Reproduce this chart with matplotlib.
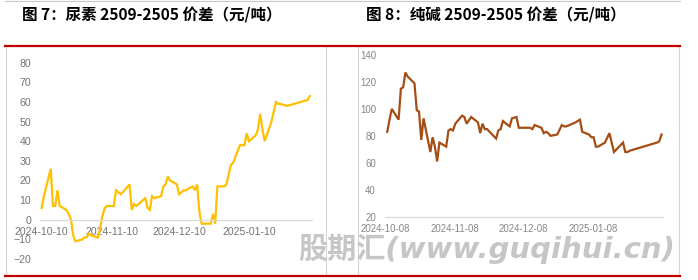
import matplotlib
matplotlib.use("Agg")
import matplotlib.pyplot as plt
import matplotlib.dates as mdates
from matplotlib.lines import Line2D
import pandas as pd

# 尿素 2509-2505 价差（元/吨）
urea_dates = ["2024-10-10", "2024-10-11", "2024-10-14", "2024-10-15", "2024-10-16",
              "2024-10-17", "2024-10-18", "2024-10-21", "2024-10-22", "2024-10-23",
              "2024-10-24", "2024-10-25", "2024-10-28", "2024-10-29", "2024-10-30",
              "2024-10-31", "2024-11-01", "2024-11-04", "2024-11-05", "2024-11-06",
              "2024-11-07", "2024-11-08", "2024-11-11", "2024-11-12", "2024-11-14",
              "2024-11-15", "2024-11-18", "2024-11-19", "2024-11-20", "2024-11-21",
              "2024-11-25", "2024-11-26", "2024-11-27", "2024-11-28", "2024-11-29",
              "2024-12-02", "2024-12-03", "2024-12-04", "2024-12-05", "2024-12-06",
              "2024-12-09", "2024-12-10", "2024-12-11", "2024-12-12", "2024-12-13",
              "2024-12-16", "2024-12-17", "2024-12-18", "2024-12-19", "2024-12-20",
              "2024-12-23", "2024-12-24", "2024-12-25", "2024-12-26", "2024-12-27",
              "2024-12-30", "2024-12-31", "2025-01-02", "2025-01-03", "2025-01-06",
              "2025-01-07", "2025-01-08", "2025-01-09", "2025-01-10", "2025-01-13",
              "2025-01-14", "2025-01-15", "2025-01-16", "2025-01-17", "2025-01-20",
              "2025-01-21", "2025-01-22", "2025-01-23", "2025-01-24", "2025-01-27",
              "2025-02-05", "2025-02-06"]
urea_vals = [6, 12, 26, 7, 7,
             15, 7, 5, 3, 0,
             -8, -11, -10, -9, -9,
             -7, -8, -9, -4, 2,
             6, 7, 7, 15, 13,
             14, 18, 5, 8, 7,
             11, 6, 5, 12, 11,
             12, 17, 18, 22, 20,
             18, 13, 14, 15, 15,
             17, 15, 18, 4, -2,
             -2, -2, 3, -2, 17,
             17, 18, 28, 29, 38,
             38, 38, 44, 40, 43,
             46, 54, 46, 40, 50,
             55, 60, 59, 59, 58,
             61, 63]

# 纯碱 2509-2505 价差（元/吨）
soda_dates = ["2024-10-09", "2024-10-10", "2024-10-11", "2024-10-14", "2024-10-15",
              "2024-10-16", "2024-10-17", "2024-10-18", "2024-10-21", "2024-10-22",
              "2024-10-23", "2024-10-24", "2024-10-25", "2024-10-28", "2024-10-29",
              "2024-10-30", "2024-10-31", "2024-11-01", "2024-11-04", "2024-11-05",
              "2024-11-06", "2024-11-07", "2024-11-08", "2024-11-11", "2024-11-12",
              "2024-11-13", "2024-11-15", "2024-11-18", "2024-11-19", "2024-11-20",
              "2024-11-21", "2024-11-22", "2024-11-26", "2024-11-27", "2024-11-28",
              "2024-11-29", "2024-12-02", "2024-12-03", "2024-12-05", "2024-12-06",
              "2024-12-11", "2024-12-12", "2024-12-13", "2024-12-16", "2024-12-17",
              "2024-12-18", "2024-12-19", "2024-12-20", "2024-12-23", "2024-12-25",
              "2024-12-26", "2024-12-27", "2024-12-31", "2025-01-02", "2025-01-03",
              "2025-01-06", "2025-01-07", "2025-01-08", "2025-01-09", "2025-01-10",
              "2025-01-13", "2025-01-15", "2025-01-17", "2025-01-21", "2025-01-22",
              "2025-01-23", "2025-01-24", "2025-02-05", "2025-02-06", "2025-02-07"]
soda_vals = [83, 92, 100, 92, 115,
             116, 127, 124, 119, 99,
             98, 77, 93, 68, 79,
             72, 61, 75, 72, 84,
             85, 84, 89, 95, 94,
             89, 94, 90, 82, 89,
             85, 85, 78, 84, 85,
             91, 87, 93, 94, 86,
             86, 85, 88, 86, 82,
             83, 82, 80, 81, 88,
             87, 87, 90, 92, 83,
             81, 79, 79, 72, 72,
             75, 82, 68, 75, 68,
             68, 69, 75, 76, 81]

urea_ticks = ["2024-10-10", "2024-11-10", "2024-12-10", "2025-01-10"]
soda_ticks = ["2024-10-08", "2024-11-08", "2024-12-08", "2025-01-08"]

title_left = "图 7：尿素 2509-2505 价差（元/吨）"
title_right = "图 8：纯碱 2509-2505 价差（元/吨）"

W, H = 698, 280
fig = plt.figure(figsize=(W / 100, H / 100), dpi=100)
fig.patch.set_facecolor("white")


def fx(px):
    return px / W


def fy(py):
    return 1 - py / H


tick_font = ["Liberation Sans", "DejaVu Sans"]


def setup(ax, dates, vals, ticks, color, ylim, yticks, xlim, zero_spine, size, tcolor):
    ax.plot(pd.to_datetime(dates), vals, color=color, lw=1.6, solid_joinstyle="miter")
    ax.set_ylim(*ylim)
    ax.set_yticks(yticks)
    ax.set_xlim(pd.Timestamp(xlim[0]), pd.Timestamp(xlim[1]))
    ax.set_xticks(pd.to_datetime(ticks))
    ax.xaxis.set_major_formatter(mdates.DateFormatter("%Y-%m-%d"))
    for s in ["top", "right", "left"]:
        ax.spines[s].set_visible(False)
    ax.spines["bottom"].set_color("#d9d9d9")
    ax.spines["bottom"].set_linewidth(0.9)
    if zero_spine:
        ax.spines["bottom"].set_position(("data", 0))
    ax.tick_params(axis="both", length=0, colors=tcolor, labelsize=size)
    ax.tick_params(axis="y", pad=6.5)
    ax.tick_params(axis="x", pad=5)
    for lab in ax.get_xticklabels() + ax.get_yticklabels():
        lab.set_fontfamily(tick_font)
    ax.patch.set_alpha(0)


ax1 = fig.add_axes([fx(40), fy(259), fx(272), fy(62.7) - fy(259)])
setup(ax1, urea_dates, urea_vals, urea_ticks, "#FFC000", (-20, 80),
      range(-20, 81, 10), ("2024-10-09 06:00", "2025-02-07"), True, 7.6, "#737373")

ax2 = fig.add_axes([fx(385), fy(216.7), fx(277.7), fy(55) - fy(216.7)])
setup(ax2, soda_dates, soda_vals, soda_ticks, "#A64D13", (20, 140),
      range(20, 141, 20), ("2024-10-08", "2025-02-07 12:00"), False, 6.9, "#858585")

# frames and red rules
def hline(y, x0, x1, color, lw):
    fig.add_artist(Line2D([fx(x0), fx(x1)], [fy(y), fy(y)], color=color, lw=lw))


def vline(x, y0, y1, color, lw):
    fig.add_artist(Line2D([fx(x), fx(x)], [fy(y0), fy(y1)], color=color, lw=lw))


hline(0.5, 5, 680, "#c8c8c8", 0.8)
for x in [5.5, 326, 358, 679]:
    vline(x, 47, 274, "#d4d4d4", 0.8)
hline(45.5, 5, 680, "#C00000", 1.6)
hline(275.5, 5, 680, "#C00000", 1.6)

# titles
for x, t in [(22, title_left), (366, title_right)]:
    fig.text(fx(x), fy(15), t, fontsize=11.2, fontweight="bold",
             family=["Noto Sans CJK SC"], va="center", ha="left", color="black")

# watermark
fig.text(fx(298), fy(249), "股期汇(www.guqihui.cn)", fontsize=21, fontweight="bold",
         style="italic", family=["DejaVu Sans", "Noto Sans CJK SC"],
         color="#c0c0c0", va="center", ha="left", alpha=0.9)

fig.savefig("out.png", dpi=100)
